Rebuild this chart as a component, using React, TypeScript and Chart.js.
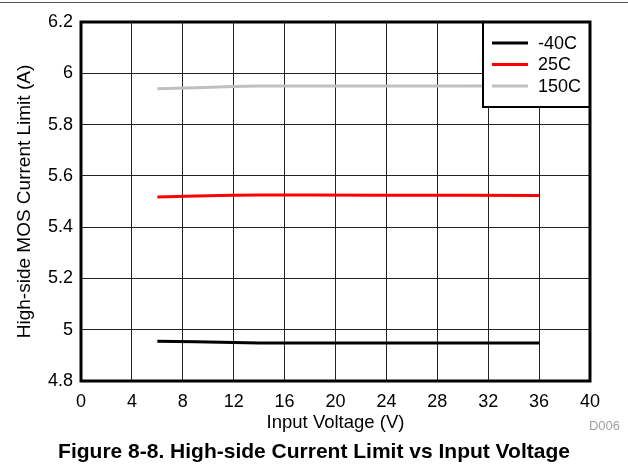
import React, { useEffect, useRef } from 'react';
import { Chart, registerables } from 'chart.js';

Chart.register(...registerables);

// ---- data ----
const voltages = [6, 9, 12, 14, 18, 24, 30, 36];
const limitM40 = [4.955, 4.953, 4.950, 4.948, 4.948, 4.948, 4.948, 4.948];
const limit25 = [5.518, 5.521, 5.524, 5.525, 5.525, 5.524, 5.524, 5.523];
const limit150 = [5.940, 5.944, 5.948, 5.950, 5.950, 5.950, 5.950, 5.951];
const seriesLabels = ['-40C', '25C', '150C'];
const seriesColors = ['#000000', '#ff0000', '#bfbfbf'];
const xTickValues = [0, 4, 8, 12, 16, 20, 24, 28, 32, 36, 40];
const yTickValues = [4.8, 5, 5.2, 5.4, 5.6, 5.8, 6, 6.2];

const FONT = "'Liberation Sans', Arial, Helvetica, sans-serif";

const framePlugin = {
  id: 'frameAndLegend',
  afterDatasetsDraw(chart: any) {
    const { ctx, chartArea } = chart;
    const { left, top, right, bottom } = chartArea;
    ctx.save();
    // legend box
    const bx = 483, by = top, bw = right - 483, bh = 85;
    ctx.fillStyle = '#ffffff';
    ctx.fillRect(bx, by, bw, bh);
    ctx.lineWidth = 2;
    ctx.strokeStyle = '#000000';
    ctx.strokeRect(bx, by, bw, bh);
    chart.data.datasets.forEach((ds: any, i: number) => {
      const y = by + 21 + i * 21.5;
      ctx.beginPath();
      ctx.lineWidth = 3;
      ctx.strokeStyle = ds.borderColor;
      ctx.moveTo(bx + 9, y);
      ctx.lineTo(bx + 45, y);
      ctx.stroke();
      ctx.fillStyle = '#000000';
      ctx.font = `18px ${FONT}`;
      ctx.textBaseline = 'middle';
      ctx.textAlign = 'left';
      ctx.fillText(ds.label, bx + 55, y + 1);
    });
    // plot frame
    ctx.lineWidth = 3;
    ctx.strokeStyle = '#000000';
    ctx.strokeRect(left, top, right - left, bottom - top);
    ctx.restore();
  },
};

export default function App() {
  const canvasRef = useRef<HTMLCanvasElement | null>(null);

  useEffect(() => {
    if (!canvasRef.current) return;
    const series = [limitM40, limit25, limit150];
    const chart = new Chart(canvasRef.current, {
      type: 'line',
      data: {
        datasets: series.map((vals, i) => ({
          label: seriesLabels[i],
          data: voltages.map((v, j) => ({ x: v, y: vals[j] })),
          borderColor: seriesColors[i],
          backgroundColor: seriesColors[i],
          borderWidth: 3,
          pointRadius: 0,
          tension: 0,
          fill: false,
        })),
      },
      options: {
        responsive: false,
        animation: false,
        layout: { padding: { top: 22, right: 38, left: 0, bottom: 34 } },
        plugins: {
          legend: { display: false },
          tooltip: { enabled: false },
        },
        scales: {
          x: {
            type: 'linear',
            min: 0,
            max: 40,
            afterFit: (s: any) => { s.height = 55; },
            afterBuildTicks: (s: any) => { s.ticks = xTickValues.map((v) => ({ value: v })); },
            ticks: {
              color: '#000',
              padding: 10,
              font: { family: FONT, size: 18 },
              maxRotation: 0,
              callback: (v: any) => String(v),
            },
            grid: { color: '#222', lineWidth: 1, drawTicks: false },
            border: { display: false },
            title: {
              display: true,
              text: 'Input Voltage (V)',
              color: '#000',
              font: { family: FONT, size: 18.5 },
              padding: { top: 0, bottom: 2 },
            },
          },
          y: {
            type: 'linear',
            min: 4.8,
            max: 6.2,
            afterFit: (s: any) => { s.width = 81; },
            afterBuildTicks: (s: any) => { s.ticks = yTickValues.map((v) => ({ value: v })); },
            ticks: {
              color: '#000',
              padding: 8,
              font: { family: FONT, size: 18 },
              callback: (v: any) => String(Number(Number(v).toFixed(1))),
            },
            grid: { color: '#222', lineWidth: 1, drawTicks: false },
            border: { display: false },
            title: {
              display: true,
              text: 'High-side MOS Current Limit (A)',
              color: '#000',
              font: { family: FONT, size: 19 },
              padding: { top: 13, bottom: 0 },
            },
          },
        },
      },
      plugins: [framePlugin],
    } as any);
    return () => chart.destroy();
  }, []);

  return (
    <div
      style={{
        position: 'fixed',
        left: 0,
        top: 0,
        width: 628,
        height: 470,
        background: '#ffffff',
        overflow: 'hidden',
      }}
    >
      <div style={{ position: 'absolute', left: 0, top: 2, width: 628, height: 1, background: '#555' }} />
      <canvas ref={canvasRef} width={628} height={470} style={{ position: 'absolute', left: 0, top: 0 }} />
      <div
        style={{
          position: 'absolute',
          right: 8,
          top: 418,
          fontFamily: FONT,
          fontSize: 13,
          color: '#a0a0a0',
        }}
      >
        D006
      </div>
      <div
        style={{
          position: 'absolute',
          left: 0,
          top: 439,
          width: 628,
          textAlign: 'center',
          fontFamily: FONT,
          fontSize: 21,
          fontWeight: 'bold',
          color: '#000',
          lineHeight: '24px',
          whiteSpace: 'nowrap',
        }}
      >
        Figure 8-8. High-side Current Limit vs Input Voltage
      </div>
    </div>
  );
}
